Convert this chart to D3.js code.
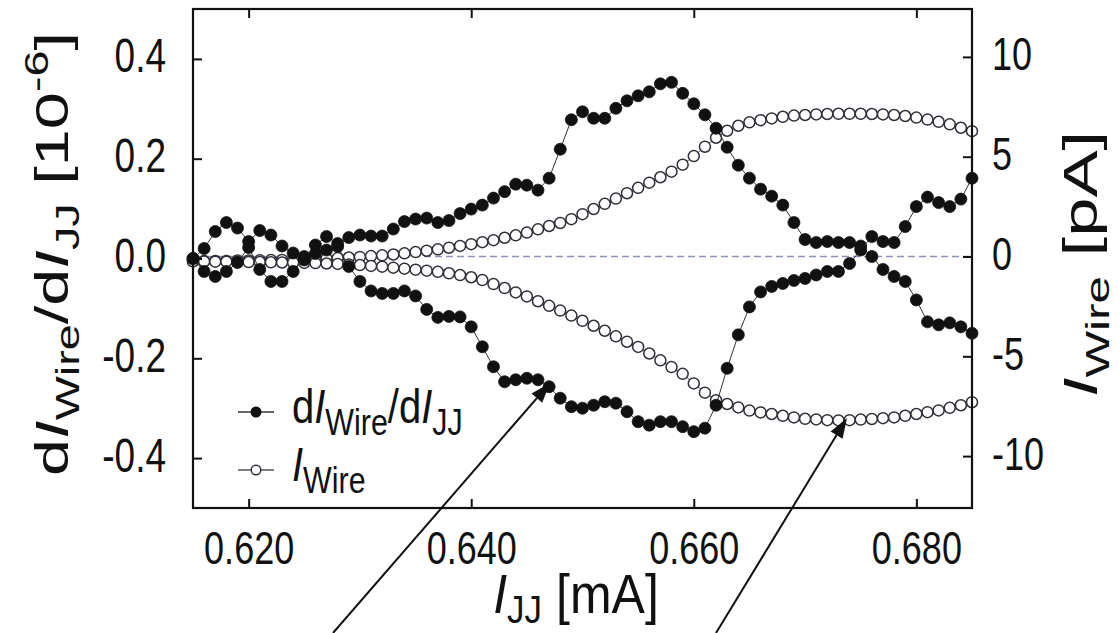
<!DOCTYPE html>
<html>
<head>
<meta charset="utf-8">
<script src="https://cdn.jsdelivr.net/npm/d3@7"></script>
<style>
  html, body { margin: 0; padding: 0; background: #fff; }
  svg { display: block; }
  text { font-family: "Liberation Sans", Arial, Helvetica, sans-serif; fill: #111; }
</style>
</head>
<body>
<svg id="chart" width="1119" height="633"></svg>
<script>
// ---------------- data ----------------
const xValues = [0.615,0.616,0.617,0.618,0.619,0.620,0.621,0.622,0.623,0.624,
  0.625,0.626,0.627,0.628,0.629,0.630,0.631,0.632,0.633,0.634,
  0.635,0.636,0.637,0.638,0.639,0.640,0.641,0.642,0.643,0.644,
  0.645,0.646,0.647,0.648,0.649,0.650,0.651,0.652,0.653,0.654,
  0.655,0.656,0.657,0.658,0.659,0.660,0.661,0.662,0.663,0.664,
  0.665,0.666,0.667,0.668,0.669,0.670,0.671,0.672,0.673,0.674,
  0.675,0.676,0.677,0.678,0.679,0.680,0.681,0.682,0.683,0.684,0.685];

// dI_Wire/dI_JJ [1e-6], branch that peaks (filled)
const dIdIA = [0.000,0.020,0.054,0.072,0.061,0.034,0.056,0.047,0.025,0.011,
  -0.003,0.027,0.044,0.030,0.042,0.047,0.045,0.045,0.059,0.074,
  0.079,0.081,0.072,0.076,0.090,0.099,0.107,0.121,0.134,0.149,
  0.147,0.137,0.161,0.219,0.278,0.294,0.281,0.281,0.301,0.316,
  0.326,0.334,0.350,0.353,0.331,0.310,0.288,0.261,0.223,0.187,
  0.161,0.139,0.125,0.107,0.072,0.038,0.032,0.034,0.032,0.032,
  0.025,0.004,-0.022,-0.036,-0.046,-0.083,-0.127,-0.133,-0.129,-0.137,-0.150];

// dI_Wire/dI_JJ [1e-6], branch that dips (filled)
const dIdIB = [0.000,-0.026,-0.036,-0.026,-0.008,0.022,-0.022,-0.046,-0.046,-0.026,
  0.004,0.010,0.017,0.024,-0.016,-0.046,-0.065,-0.070,-0.070,-0.065,
  -0.075,-0.102,-0.118,-0.116,-0.117,-0.137,-0.177,-0.217,-0.247,-0.243,
  -0.240,-0.243,-0.257,-0.280,-0.297,-0.300,-0.294,-0.287,-0.290,-0.307,
  -0.327,-0.334,-0.327,-0.327,-0.337,-0.347,-0.340,-0.294,-0.220,-0.153,
  -0.097,-0.067,-0.056,-0.050,-0.044,-0.040,-0.033,-0.026,-0.026,-0.010,
  0.017,0.044,0.034,0.032,0.064,0.104,0.123,0.112,0.104,0.119,0.161];

// I_Wire [pA], positive branch (open)
const iWireA = [-0.24,-0.23,-0.22,-0.22,-0.20,-0.20,-0.19,-0.18,-0.17,-0.16,
  -0.15,-0.13,-0.11,-0.08,-0.05,-0.02,0.02,0.06,0.10,0.16,
  0.22,0.29,0.36,0.44,0.53,0.62,0.72,0.82,0.94,1.06,
  1.20,1.36,1.53,1.68,1.87,2.12,2.38,2.64,2.90,3.17,
  3.44,3.70,3.97,4.25,4.60,5.03,5.50,5.95,6.30,6.55,
  6.72,6.83,6.92,7.00,7.06,7.09,7.12,7.14,7.15,7.15,
  7.15,7.14,7.12,7.09,7.04,6.96,6.86,6.75,6.62,6.45,6.28];

// I_Wire [pA], negative branch (open)
const iWireB = [-0.24,-0.25,-0.26,-0.26,-0.27,-0.28,-0.28,-0.29,-0.30,-0.31,
  -0.32,-0.33,-0.35,-0.37,-0.40,-0.43,-0.47,-0.51,-0.56,-0.61,
  -0.66,-0.71,-0.77,-0.84,-0.93,-1.04,-1.18,-1.38,-1.58,-1.80,
  -2.00,-2.24,-2.47,-2.71,-2.96,-3.22,-3.47,-3.72,-4.00,-4.27,
  -4.53,-4.86,-5.20,-5.54,-5.88,-6.36,-6.82,-7.20,-7.39,-7.56,
  -7.72,-7.81,-7.89,-7.98,-8.06,-8.13,-8.16,-8.20,-8.21,-8.20,
  -8.17,-8.14,-8.10,-8.06,-7.98,-7.89,-7.80,-7.71,-7.58,-7.45,-7.30];

const xTicks = [0.620, 0.640, 0.660, 0.680];
const yLeftTicks = [-0.4, -0.2, 0.0, 0.2, 0.4];
const yRightTicks = [-10, -5, 0, 5, 10];

// ---------------- layout ----------------
const svg = d3.select("#chart");
const L = 193, R = 972, T = 9, B = 508;
const TS = 1.3;   // vertical stretch of horizontal text in the original figure
const TSR = 1.42; // stretch along the rotated titles

const x = d3.scaleLinear().domain([0.615, 0.685]).range([L, R]);
const yL = d3.scaleLinear().domain([-0.5, 0.5]).range([B, T]);
const yR = d3.scaleLinear().domain([-12.6, 12.4]).range([B, T]);

// zero dashed line
svg.append("line")
  .attr("x1", L).attr("x2", R)
  .attr("y1", yR(0)).attr("y2", yR(0))
  .attr("stroke", "#8a90b8").attr("stroke-width", 1.3)
  .attr("stroke-dasharray", "7,4");

// ---------------- series ----------------
function drawSeries(vals, yScale, filled) {
  const pts = xValues.map((xv, i) => [xv, vals[i]]);
  const line = d3.line().x(d => x(d[0])).y(d => yScale(d[1]));
  svg.append("path").datum(pts)
    .attr("fill", "none")
    .attr("stroke", filled ? "#333" : "#555")
    .attr("stroke-width", 1)
    .attr("d", line);
  svg.append("g").selectAll("circle").data(pts).join("circle")
    .attr("cx", d => x(d[0])).attr("cy", d => yScale(d[1]))
    .attr("r", filled ? 6.0 : 5.5)
    .attr("fill", filled ? "#111" : "#fff")
    .attr("stroke", filled ? "#111" : "#2e2e38")
    .attr("stroke-width", filled ? 0.8 : 1.5);
}
drawSeries(iWireA, yR, false);
drawSeries(iWireB, yR, false);
drawSeries(dIdIA, yL, true);
drawSeries(dIdIB, yL, true);

// ---------------- frame and axes ----------------
svg.append("rect").attr("x", L).attr("y", T).attr("width", R - L).attr("height", B - T)
  .attr("fill", "none").attr("stroke", "#111").attr("stroke-width", 2.2);

const fontTick = 36;

const gB = svg.append("g").attr("transform", `translate(0,${B})`)
  .call(d3.axisBottom(x).tickValues(xTicks).tickFormat(d3.format(".3f"))
    .tickSizeInner(-9).tickSizeOuter(0));
gB.select(".domain").remove();
gB.selectAll(".tick line").attr("stroke", "#111").attr("stroke-width", 2);
gB.selectAll(".tick text")
  .attr("y", null).attr("dy", null)
  .attr("transform", `translate(0,56) scale(1,${TS})`)
  .attr("font-size", fontTick).attr("fill", "#111");

const gT = svg.append("g").attr("transform", `translate(0,${T})`)
  .call(d3.axisTop(x).tickValues(xTicks).tickFormat("").tickSizeInner(-9).tickSizeOuter(0));
gT.select(".domain").remove();
gT.selectAll(".tick line").attr("stroke", "#111").attr("stroke-width", 2);

const gL = svg.append("g").attr("transform", `translate(${L},0)`)
  .call(d3.axisLeft(yL).tickValues(yLeftTicks).tickFormat(d => d.toFixed(1))
    .tickSizeInner(-9).tickSizeOuter(0).tickPadding(27));
gL.select(".domain").remove();
gL.selectAll(".tick line").attr("stroke", "#111").attr("stroke-width", 2);
gL.selectAll(".tick text")
  .attr("dy", null)
  .attr("transform", `translate(0,13) scale(1,${TS})`)
  .attr("font-size", fontTick + 1).attr("fill", "#111");

const gR = svg.append("g").attr("transform", `translate(${R},0)`)
  .call(d3.axisRight(yR).tickValues(yRightTicks).tickFormat(d => String(d))
    .tickSizeInner(-9).tickSizeOuter(0).tickPadding(20));
gR.select(".domain").remove();
gR.selectAll(".tick line").attr("stroke", "#111").attr("stroke-width", 2);
gR.selectAll(".tick text")
  .attr("dy", null)
  .attr("transform", `translate(0,13) scale(1,${TS})`)
  .attr("font-size", fontTick).attr("fill", "#111");

// ---------------- titles ----------------
function richText(g, parts, size, subRatio, subDrop) {
  const sr = subRatio || 0.7;
  const sd = subDrop || 0.24;
  const t = g.append("text").attr("font-size", size);
  parts.forEach(p => {
    const s = t.append("tspan").text(p.t);
    if (p.i) s.attr("font-style", "italic");
    if (p.sub) s.attr("font-size", size * sr).attr("dy", size * sd);
    if (p.sup) s.attr("font-size", size * sr).attr("dy", -size * 0.42);
    if (p.back) s.attr("dy", p.back * size);
  });
  return t;
}

// left title
const gLT = svg.append("g").attr("transform", `translate(68,254) scale(1,${TSR}) rotate(-90)`);
richText(gLT, [
  {t: "d"}, {t: "I", i: true}, {t: "Wire", sub: true},
  {t: "/d", back: -0.24}, {t: "I", i: true}, {t: "JJ", sub: true},
  {t: " [10", back: -0.24}, {t: "-6", sup: true}, {t: "]", back: 0.42}
], 47).attr("text-anchor", "middle");

// right title
const gRT = svg.append("g").attr("transform", `translate(1097,264) scale(1,${TSR + 0.05}) rotate(-90)`);
richText(gRT, [
  {t: "I", i: true}, {t: "Wire", sub: true}, {t: " [pA]", back: -0.24}
], 48).attr("text-anchor", "middle");

// x title
const gXT = svg.append("g").attr("transform", `translate(576,613) scale(1,1.12)`);
richText(gXT, [
  {t: "I", i: true}, {t: "JJ", sub: true}, {t: " [mA]", back: -0.18}
], 50, 0.7, 0.18).attr("text-anchor", "middle");

// ---------------- legend ----------------
const legendItems = [
  {y: 412, filled: true, parts: [{t: "d"}, {t: "I", i: true}, {t: "Wire", sub: true},
    {t: "/d", back: -0.24}, {t: "I", i: true}, {t: "JJ", sub: true}]},
  {y: 470, filled: false, parts: [{t: "I", i: true}, {t: "Wire", sub: true}]}
];
legendItems.forEach(it => {
  svg.append("line").attr("x1", 238).attr("x2", 274).attr("y1", it.y).attr("y2", it.y)
    .attr("stroke", it.filled ? "#333" : "#555").attr("stroke-width", 1.3);
  svg.append("circle").attr("cx", 256).attr("cy", it.y).attr("r", 4.8)
    .attr("fill", it.filled ? "#111" : "#fff")
    .attr("stroke", it.filled ? "#111" : "#2e2e38").attr("stroke-width", 1.4);
  const g = svg.append("g").attr("transform", `translate(292,${it.y + 11}) scale(1,${TS - 0.1})`);
  richText(g, it.parts, 40, 0.76);
});

// ---------------- arrows ----------------
const arrows = [
  {x1: 333, y1: 633, x2: 550, y2: 383},
  {x1: 716, y1: 633, x2: 847, y2: 418}
];
arrows.forEach(a => {
  const ang = Math.atan2(a.y2 - a.y1, a.x2 - a.x1);
  const len = 20, w = 7;
  const bx = a.x2 - len * Math.cos(ang), by = a.y2 - len * Math.sin(ang);
  svg.append("line").attr("x1", a.x1).attr("y1", a.y1).attr("x2", bx).attr("y2", by)
    .attr("stroke", "#111").attr("stroke-width", 2);
  const px = -Math.sin(ang), py = Math.cos(ang);
  svg.append("path")
    .attr("d", `M${a.x2},${a.y2} L${bx + w * px},${by + w * py} L${bx - w * px},${by - w * py} Z`)
    .attr("fill", "#111");
});
</script>
</body>
</html>
